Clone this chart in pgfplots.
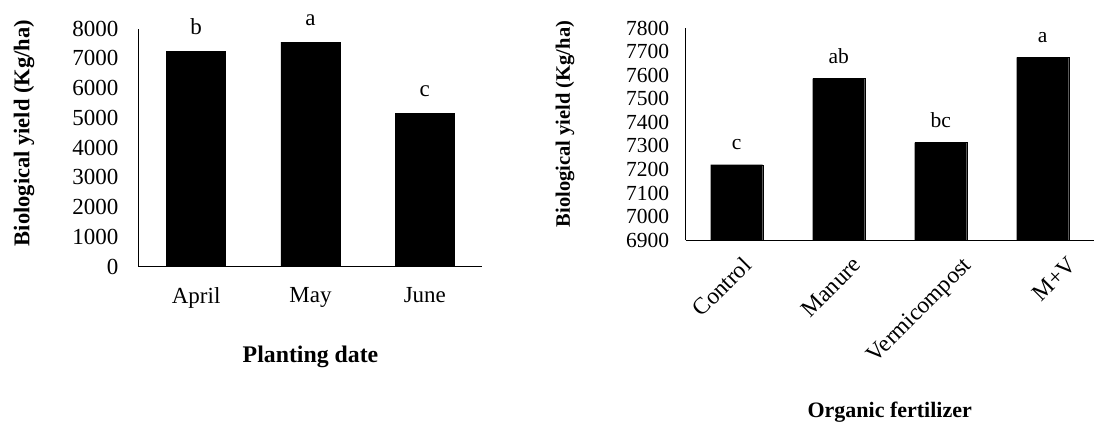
\documentclass[border=0pt]{standalone}
\usepackage{fontspec}
\setmainfont{Liberation Serif}
\usepackage{pgfplots}
\pgfplotsset{compat=1.18}
\newcommand\fs[1]{\fontsize{#1}{#1}\selectfont}
\begin{document}
\begin{tikzpicture}
\path[use as bounding box] (0pt,0pt) rectangle (1120pt,-425pt);
\pgfplotsset{
  common/.style={
    scale only axis,
    axis x line=bottom, axis y line=left,
    axis line style={-, line width=1pt, black},
    major tick length=0pt,
    ybar, bar shift=0pt,
    /pgf/number format/assume math mode=true,
    /pgf/number format/set thousands separator={},
    tick label style={font=\fs{21.5}, black},
    ymajorgrids=false,
    nodes near coords,
    point meta=explicit symbolic,
    every node near coord/.append style={font=\fs{21.5}, anchor=base, yshift=15pt},
    label style={font=\bfseries\fs{22.5}},
    enlargelimits=false,
  }
}
% Left chart
\begin{axis}[common,
  at={(139pt,-266.7pt)}, anchor=south west,
  width=343pt, height=238.2pt,
  xmin=-0.5, xmax=2.5, ymin=0, ymax=8000, ytick={0,1000,...,8000},
  bar width=59pt,
  xtick=data,
  xticklabels={April,May,June},
  tick label style={font=\fs{23}},
  every node near coord/.append style={font=\fs{23}, yshift=2pt},
  yticklabel style={xshift=-17pt},
  xticklabel style={yshift=-17pt},
  xlabel={Planting date},
  ylabel={Biological yield (Kg/ha)},
  xlabel style={at={(axis description cs:0.5,-0.378)}, anchor=center, font=\bfseries\fs{23.8}},
  ylabel style={at={(axis description cs:-0.335,0.561)}, anchor=center, rotate=0},
]
\addplot[fill=black, draw=black] coordinates {(0,7230) [b] (1,7545) [a] (2,5140) [c]};
\end{axis}
% Right chart
\begin{axis}[common,
  at={(685.7pt,-240pt)}, anchor=south west,
  width=408pt, height=211.7pt,
  xmin=-0.5, xmax=3.5, ymin=6900, ymax=7800, ytick={6900,7000,...,7800},
  bar width=52pt,
  xtick={-0.06,1.02,2.10,3.13},
  xticklabels={Control,Manure,Vermicompost,M+V},
  yticklabel style={xshift=-13pt},
  xticklabel style={rotate=45, anchor=north east, yshift=-15pt, font=\fs{23.5}},
  xlabel={Organic fertilizer},
  ylabel={Biological yield (Kg/ha)},
  xlabel style={at={(axis description cs:0.5,-0.811)}, anchor=center, font=\bfseries\fs{22}},
  ylabel style={at={(axis description cs:-0.296,0.548)}, anchor=center, font=\bfseries\fs{20.5}},
]
\addplot[fill=black, draw=black] coordinates {(0,7220) [c] (1,7586) [ab] (2,7314) [bc] (3,7676) [a]};
\end{axis}
\end{tikzpicture}
\end{document}
